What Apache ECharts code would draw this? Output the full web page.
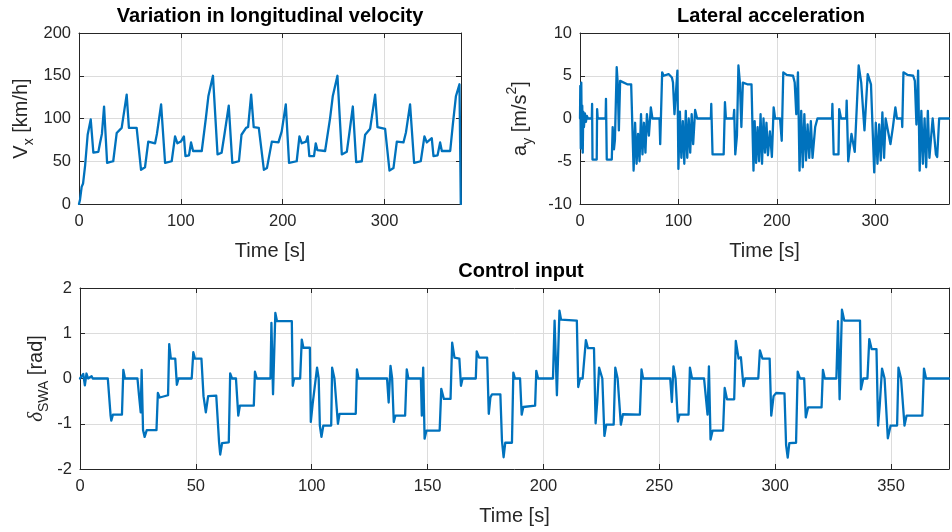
<!DOCTYPE html>
<html><head><meta charset="utf-8">
<script src="https://cdn.jsdelivr.net/npm/echarts@6/dist/echarts.min.js"></script>
<style>html,body{margin:0;padding:0;background:#fff}#c{width:952px;height:532px}</style>
</head><body><div id="c"></div>
<script>
// ---- Longitudinal velocity [km/h]
const velTime = [0,1,2.6,4,6,8.5,11.5,14.1,19,20.6,22.5,24.6,27.6,30,33.6,37,41.9,43.5,46.8,49,56.6,60.9,64.8,68,74.7,76.5,80.6,84.5,91,94.3,96.6,100,103,104.5,108,110,112,120.5,124.5,127,131.5,136,140,143,147,150.5,157,159.5,164,166,169,171.5,176.5,181.5,184.5,189.3,195.8,199,203,206.2,213.7,216.4,218.7,222.9,224.5,226.1,230.7,232.4,234,241.6,246.5,249.1,253.7,258,262.9,265.2,268.8,272.1,277.6,280.9,285.8,290.7,293,300.5,304.8,308.7,312,318.5,321,325,329,335.5,339.1,341.4,346.3,348,352,354.5,356.2,364.4,367,370,373.5,374.6,374.8];
const velValues = [0,5,20,24,45,81,99,60,61,71,82,114,48,49,50,83,89,90,128,89,89,40,43,73,71,82,116.5,48,50,79,71,73,79,56,57,72,62,62,100,126,150,58,60,83,115,48,50,81,89,90,128,90,89,40,42,73,72,85,116.5,48,50,79,71,73,79,56,56,71,63,62,100.5,126,150,58,61,81,114,49,50,81,88,128,90,88,39,42,73,72,84,116.5,48,50,79,72,77,56,57,72,62,62,93,126,140,140,0];

// ---- Lateral acceleration [m/s^2]
const latTime = [0,0.3,0.8,1.3,1.8,2.3,2.8,3.3,4,5,6,7,8,12,12.3,12.7,17,17.4,18,26,26.4,27.2,32.3,33.2,34.5,35.5,37.3,38.3,39.5,40.8,42,48,52,53.5,54.5,56,57.5,59,60.5,62,63.5,65,66.5,68,70,72,73.6,80.8,81.5,83.5,85,90,93.4,94.5,96,99,100,101.5,103,104.5,106,107.5,109,110.5,112,113.5,115,117,119,133,133.4,134.7,146,147.3,148.3,156,156.7,157.8,159.5,161,162.5,164,165.5,170,174.3,176.3,177.5,179,180.5,182,183.5,185,186.5,188,189.5,191,193,195,196.8,198.3,203.3,205,206.6,210,216.5,218.2,219.8,221.5,223.1,224.8,226.4,228,229.7,231.3,233,234.6,236.3,239,241.3,256.1,256.5,257.8,262.7,263.4,265.3,270.5,271,272.6,275.9,279.2,283.2,285.8,289.1,292.4,295.7,299,300.6,302.3,304,305.6,307.3,309,310.6,315.5,318,320.5,322.1,327.1,327.5,328.7,333,338.6,340.3,341.9,343.6,345.2,346.9,348.5,350.2,351.8,353.5,355.1,358.4,361.7,363,365,370,375];
const latValues = [0,3.8,-3.5,4.2,-2,1.5,-4,0.8,-1,0.6,-0.4,0.3,0,0,1.7,-4.8,-4.8,1.1,0,0,2.3,-4.8,-4.8,-1,-3.6,-2.5,6,4.2,-1.4,4.4,4.2,4,4,3.8,-6.1,-0.5,-5.3,-1.8,-5,0.5,-4.2,-0.5,-4,0.5,-2,1.3,0,0,-3,5.4,5,5.2,4.8,4.2,0.5,5.6,-5.9,0.8,-4.6,-0.3,-5.3,0.9,-4.6,0,-4,0.5,-3,1,0,0,1.7,-4.2,-4.2,1.9,0,0,1,-4.2,-2,6.2,4.2,-1,4.2,4,4,-6.1,-0.3,-5.2,-1,-5,0.5,-5.3,0,-4,-0.5,-4.3,-1.5,-4.5,1.3,0,0,-2.6,5.4,5.1,5,4.2,0.5,5.4,-6.1,0.9,-5.7,0.5,-4.9,-0.7,-4.6,-0.3,-4.6,-1,0,0,1.7,-4.2,-4.2,1.1,0,0,2.1,-5,-1.8,-3.9,6.2,4.2,-1.4,5.2,4,-6.3,-0.5,-5.3,-0.7,-4.9,0.7,-4.6,0,-3,-1,1.3,0,0,-1,5.4,5.1,5,4.4,-0.7,5.6,-6.1,0.9,-5.3,0,-5.7,0.9,-4.6,0,-4.2,-4.5,0,0,0];

// ---- Control input delta_SWA [rad]
const ctrlTime = [0,1.4,2.1,2.8,3.5,5,5.5,12,13.2,13.5,14.2,18.1,18.7,19.4,24.8,25.5,26.2,26.6,27.2,27.9,28.8,33,33.6,34.4,38,38.5,39.2,41.1,41.8,42.5,48.2,48.9,49.6,52.4,53.3,54.3,55.3,58.8,60,60.5,61.3,64.2,64.8,65.6,67.3,68.3,69,75,75.5,76.3,82.2,82.6,83.3,84.3,85,91.4,91.8,92.4,95,95.7,96.4,99.2,99.6,100.4,102.3,103,103.5,104.2,105,108.4,108.8,109.8,110.5,111.3,112,119,119.5,120.2,132.5,133.2,134,134.7,135.4,136.1,140.3,141,141.7,147.1,147.5,148.1,148.7,149.5,155.2,155.9,157,159.9,160.6,161.6,163.7,164.4,165.1,170.8,171.2,172.2,175.7,176.4,177.1,177.8,181.4,182.1,182.8,183.5,186.4,187,187.7,189.9,190.6,191.3,196.4,196.9,197.7,204.1,204.8,205.8,206.9,207.6,214.4,215,215.8,216.9,218.3,219.2,221.8,222.5,223.2,224,225.4,226.3,227.1,230.3,231,232,233.4,234.3,241.6,242.3,243,254.7,255.4,256.1,257,258,258.7,262.6,263.2,264.1,269.3,270.8,271.4,272.1,273,277.5,278.2,279.2,282.3,283,284.2,285.2,286.3,287,292.7,293.4,294.5,297.6,298.3,299.3,300.4,304,304.7,305.4,306.1,309,309.7,310.7,312.5,313.2,314.2,320,320.6,321.4,326.4,327.1,327.8,328.8,329.8,336.6,337,338,339.8,340.6,341.6,343.7,344.4,345.1,346.1,347.2,348.6,349.8,352.6,353.2,354.3,355,355.8,356.7,363.5,364.2,365.1,375];
const ctrlValues = [0,0.1,-0.15,0.11,0,0.05,0,0,-0.82,-0.93,-0.8,-0.8,0.19,0,0,-0.39,-0.75,0.19,-1.14,-1.29,-1.14,-1.14,-0.32,-0.42,-0.37,0.76,0.44,0.44,-0.14,0,0,0.58,0.44,0.44,-0.39,-0.75,-0.39,-0.38,-1.4,-1.68,-1.43,-1.41,0.11,0,0,-0.82,-0.6,-0.6,0.15,0,0,1.23,-0.35,1.45,1.27,1.27,-0.16,0,0,0.86,0.68,0.68,-0.96,-0.56,0.24,0,-1.04,-1.29,-1.04,-1.04,0.24,0,0,-1,-0.78,-0.78,0.2,0,0,-0.53,0.28,0,-0.96,-0.82,-0.82,0.2,0,0,-0.82,0.24,-1.33,-1.15,-1.15,-0.23,-0.45,-0.45,0.79,0.46,0.44,-0.16,0,0,0.6,0.46,0.46,-0.78,-0.42,-0.35,-0.35,-1.38,-1.74,-1.42,-1.42,0.13,0,0,-0.8,-0.63,-0.6,0.17,0,0,1.28,-0.37,1.5,1.3,1.28,-0.19,0,0,0.85,0.67,0.67,-0.99,-0.52,0.24,0,-1.27,-1.02,-1.02,0.24,0,-1.02,-0.79,-0.8,0.2,0,0,-0.52,0.27,0,-0.95,-0.8,-0.8,0.24,0,0,-0.8,0.27,-1.35,-1.15,-1.15,-0.21,-0.46,-0.46,0.83,0.44,0.47,-0.17,0,0,0.62,0.44,0.44,-0.82,-0.39,-0.32,-0.33,-1.47,-1.75,-1.43,-1.42,0.15,0,0,-0.86,-0.64,-0.64,0.19,0,0,1.27,-0.46,1.52,1.28,1.28,-0.24,0,0,0.87,0.65,0.65,-1.04,-0.6,0.22,0,-1.32,-1.04,-1.04,0.24,0,0,-1.04,-0.82,-0.82,0.22,0,0];

const chart = echarts.init(document.getElementById('c'), null, {renderer: 'canvas'});
const FONT = '"Liberation Sans", Arial, Helvetica, sans-serif';
const AX = '#262626';
const GRIDC = '#dcdcdc';
const LINE = '#0072BD';
const pairs = (t, v) => t.map((x, i) => [x, v[i]]);

const rich = {
  n:   {fontSize: 20, lineHeight: 20, padding: [8, 0, 8, 0], verticalAlign: 'top', fontFamily: FONT, color: AX},
  sub: {fontSize: 14, lineHeight: 14, padding: [19, 0, 3, 0], verticalAlign: 'top', fontFamily: FONT, color: AX},
  sup: {fontSize: 14, lineHeight: 14, padding: [3, 0, 19, 0], verticalAlign: 'top', fontFamily: FONT, color: AX},
  d:   {fontSize: 21, lineHeight: 20, padding: [8, 0, 8, 0], verticalAlign: 'top', fontFamily: '"Liberation Serif", serif', fontStyle: 'italic', color: AX}
};

function xMain(g, interval, gap) {
  return {
    type: 'value', gridIndex: g, min: 0, max: 375, interval: interval, position: 'bottom',
    name: 'Time [s]', nameLocation: 'middle', nameGap: gap,
    nameTextStyle: {fontSize: 20, fontFamily: FONT, color: AX},
    axisLine: {show: true, onZero: false, lineStyle: {color: AX, width: 1}},
    axisTick: {show: true, inside: true, length: 5, lineStyle: {color: AX}},
    axisLabel: {fontSize: 16.5, fontFamily: FONT, color: AX, margin: 9,
      formatter: v => (Math.abs(v % interval) < 1e-9 ? String(v) : '')},
    splitLine: {show: true, lineStyle: {color: GRIDC, width: 1}}
  };
}
function xMirror(g, interval) {
  return {
    type: 'value', gridIndex: g, min: 0, max: 375, interval: interval, position: 'top',
    axisLine: {show: true, onZero: false, lineStyle: {color: AX, width: 1}},
    axisTick: {show: true, inside: true, length: 5, lineStyle: {color: AX}},
    axisLabel: {show: false}, splitLine: {show: false}
  };
}
function yMain(g, min, max, interval, name, gap) {
  return {
    type: 'value', gridIndex: g, min: min, max: max, interval: interval, position: 'left',
    name: name, nameLocation: 'middle', nameGap: gap, nameMoveOverlap: false,
    nameTextStyle: {rich: rich, fontSize: 20, fontFamily: FONT, color: AX},
    axisLine: {show: true, onZero: false, lineStyle: {color: AX, width: 1}},
    axisTick: {show: true, inside: true, length: 5, lineStyle: {color: AX}},
    axisLabel: {fontSize: 16.5, fontFamily: FONT, color: AX, margin: 8},
    splitLine: {show: true, lineStyle: {color: GRIDC, width: 1}}
  };
}
function yMirror(g, min, max, interval) {
  return {
    type: 'value', gridIndex: g, min: min, max: max, interval: interval, position: 'right',
    axisLine: {show: true, onZero: false, lineStyle: {color: AX, width: 1}},
    axisTick: {show: true, inside: true, length: 5, lineStyle: {color: AX}},
    axisLabel: {show: false}, splitLine: {show: false}
  };
}
function titleAt(text, cx, top) {
  return {text: text, left: cx, top: top, textAlign: 'center', padding: 0,
    textStyle: {fontSize: 20, fontWeight: 'bold', color: '#000', fontFamily: FONT}};
}
function lineSeries(i, data) {
  return {type: 'line', xAxisIndex: i, yAxisIndex: i, data: data, showSymbol: false,
    symbol: 'none', clip: true, silent: true, color: LINE,
    lineStyle: {color: LINE, width: 2.3, join: 'round', cap: 'round'}};
}

chart.setOption({
  animation: false,
  backgroundColor: '#fff',
  title: [
    titleAt('Variation in longitudinal velocity', 270, 6),
    titleAt('Lateral acceleration', 771, 6),
    titleAt('Control input', 521, 261)
  ],
  grid: [
    {left: 79, top: 33, width: 382, height: 171, containLabel: false},
    {left: 580, top: 33, width: 382, height: 171, containLabel: false},
    {left: 80, top: 288, width: 882, height: 181, containLabel: false}
  ],
  xAxis: [xMain(0, 100, 37), xMain(1, 100, 37), xMain(2, 50, 37), xMirror(0, 100), xMirror(1, 100), xMirror(2, 50)],
  yAxis: [
    yMain(0, 0, 200, 50, '{n|V}{sub|x}{n| [km/h]}', 56),
    yMain(1, -10, 10, 5, '{n|a}{sub|y}{n| [m/s}{sup|2}{n|]}', 58),
    yMain(2, -2, 2, 1, '{d|δ}{sub|SWA}{n| [rad]}', 42),
    yMirror(0, 0, 200, 50), yMirror(1, -10, 10, 5), yMirror(2, -2, 2, 1)
  ],
  series: [
    lineSeries(0, pairs(velTime, velValues)),
    lineSeries(1, pairs(latTime, latValues)),
    lineSeries(2, pairs(ctrlTime, ctrlValues))
  ]
});
</script>
</body></html>
